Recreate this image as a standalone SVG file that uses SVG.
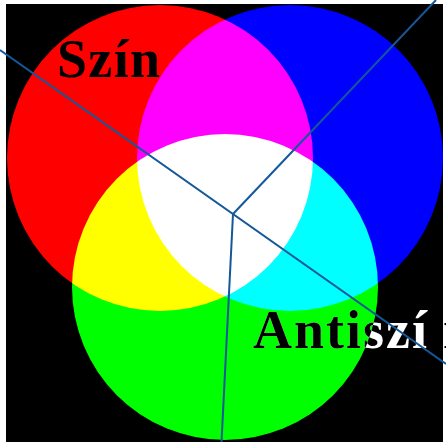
<svg xmlns="http://www.w3.org/2000/svg" width="446" height="442" viewBox="0 0 446 442">
  <style>
    .c { mix-blend-mode: screen; }
    .ln { stroke: #14589a; stroke-width: 2; fill: none; }
    .t { font-family: "Liberation Serif", "Times New Roman", serif; font-weight: bold; font-size: 54px; }
  </style>
  <defs>
    <clipPath id="darkText">
      <circle cx="225" cy="287" r="153"/>
      <rect x="443" y="0" width="10" height="442"/>
    </clipPath>
  </defs>
  <g id="circles" style="isolation:isolate">
    <rect x="6" y="4" width="437" height="438" fill="#000"/>
    <circle id="red" class="c" cx="160" cy="158" r="153" fill="#ff0000"/>
    <circle id="blue" class="c" cx="290" cy="158" r="153" fill="#0000ff"/>
    <circle id="green" class="c" cx="225" cy="287" r="153" fill="#00ff00"/>
  </g>
  <g id="label-szin">
    <text class="t" x="57" y="77" fill="#000" textLength="103" lengthAdjust="spacing">Szín</text>
  </g>
  <g id="label-antiszin">
    <text class="t" y="348" fill="#fff"><tspan x="253" textLength="174" lengthAdjust="spacing">Antiszí</tspan><tspan x="443">n</tspan></text>
    <text class="t" y="348" fill="#000" clip-path="url(#darkText)"><tspan x="253" textLength="174" lengthAdjust="spacing">Antiszí</tspan><tspan x="443">n</tspan></text>
  </g>
  <g id="connectors">
    <line class="ln" x1="0" y1="50" x2="446" y2="364"/>
    <line class="ln" x1="233" y1="214" x2="436" y2="0"/>
    <line class="ln" x1="233" y1="214" x2="221.5" y2="442"/>
  </g>
</svg>
